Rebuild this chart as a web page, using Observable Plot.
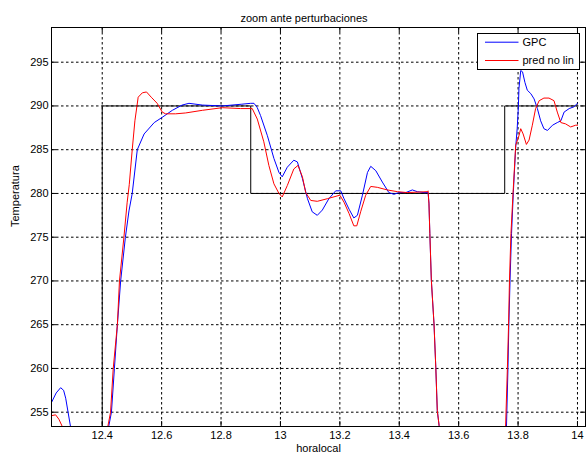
<!DOCTYPE html>
<html><head><meta charset="utf-8">
<script src="https://cdn.jsdelivr.net/npm/d3@7"></script>
<script src="https://cdn.jsdelivr.net/npm/@observablehq/plot@0.6"></script>
<style>body{margin:0;background:#fff} svg{display:block}</style>
</head><body><div id="chart"></div>
<script>
const titleText = "zoom ante perturbaciones";
const xLabel = "horalocal";
const yLabel = "Temperatura";
const seriesNames = ["GPC", "pred no lin"];
const xTicks = [12.4, 12.6, 12.8, 13, 13.2, 13.4, 13.6, 13.8, 14];
const yTicks = [255, 260, 265, 270, 275, 280, 285, 290, 295];

const spX = [12.2292, 12.4, 12.4, 12.9, 12.9, 13.755, 13.755, 14.0];
const spY = [250, 250, 290, 290, 280, 280, 290, 290];

const gpcX = [12.229,12.245,12.26,12.27,12.277,12.285,12.293,12.30,12.35,12.41,12.418,12.422,12.431,12.441,12.451,12.462,12.478,12.490,12.501,12.518,12.541,12.575,12.602,12.636,12.669,12.692,12.737,12.804,12.87,12.900,12.911,12.922,12.933,12.956,12.978,12.995,13.006,13.023,13.045,13.057,13.074,13.091,13.107,13.124,13.141,13.163,13.186,13.203,13.214,13.231,13.247,13.259,13.276,13.293,13.304,13.321,13.343,13.365,13.382,13.399,13.422,13.444,13.461,13.483,13.497,13.500,13.503,13.508,13.517,13.523,13.528,13.534,13.54,13.60,13.74,13.758,13.761,13.766,13.769,13.773,13.778,13.784,13.792,13.797,13.801,13.803,13.809,13.815,13.823,13.831,13.843,13.854,13.865,13.876,13.887,13.899,13.916,13.932,13.944,13.955,13.972,13.988,14.0];
const gpcY = [256.1,257.2,257.8,257.5,256.6,255.0,253.4,250,240,240,250,253.4,255,260,265,270,275,278,280,285,286.8,288.1,288.7,289.5,290.1,290.3,290.1,290.0,290.2,290.3,290.3,289.8,288.9,286.6,284.0,282.4,281.9,283.0,283.8,283.6,281.7,279.4,277.9,277.5,278.1,279.4,280.3,280.3,279.4,278.2,277.2,277.5,279.8,282.4,283.1,282.6,281.3,280.1,279.9,280.1,280.1,280.4,280.2,280.1,280.1,278.9,275.4,270.1,265.1,260.1,255.2,253.5,250,240,240,250,253.4,260.1,265.1,270.1,275.4,280.1,285.3,287.4,289.9,292,294.05,293.9,292.7,291.8,291.4,290.8,289.7,288.3,287.4,287.2,287.8,288.1,288.3,289.3,289.7,289.9,290.3];

const predX = [12.229,12.243,12.254,12.265,12.275,12.33,12.40,12.413,12.419,12.428,12.437,12.451,12.458,12.473,12.484,12.491,12.501,12.510,12.521,12.535,12.549,12.565,12.585,12.602,12.613,12.647,12.681,12.737,12.804,12.866,12.905,12.922,12.944,12.961,12.978,12.995,13.006,13.023,13.045,13.059,13.074,13.085,13.102,13.124,13.158,13.200,13.214,13.231,13.247,13.257,13.270,13.287,13.304,13.326,13.360,13.394,13.427,13.495,13.497,13.500,13.503,13.508,13.517,13.523,13.528,13.534,13.54,13.60,13.74,13.755,13.758,13.764,13.768,13.771,13.776,13.783,13.792,13.803,13.809,13.817,13.828,13.837,13.848,13.859,13.871,13.887,13.904,13.921,13.932,13.944,13.960,13.977,13.994,14.0];
const predY = [254.6,254.7,254.2,253.4,250,240,240,250,253.4,255,260,265,270,275,279,281,285,288.3,291,291.5,291.6,291.0,290.3,289.3,289.1,289.1,289.2,289.5,289.8,289.7,289.7,288.5,285.9,283.2,281.1,280.0,279.6,280.9,282.8,283.2,281.9,280.1,279.2,279.1,279.4,279.8,279.0,277.7,276.3,276.3,277.9,279.8,280.8,280.7,280.4,280.2,280.1,280.2,280.3,278.8,275.4,270.1,265.1,260.1,255.2,253.5,250,240,240,250,253.4,260,265,270,275.4,280,285.5,286.6,287.4,286.8,285.6,286.1,287.8,289.7,290.6,290.9,290.9,290.6,289.3,288.1,287.95,287.6,287.8,287.8];

const toRows = (xs, ys) => xs.map((x, i) => ({x, y: ys[i]}));
const setpoint = toRows(spX, spY);
const gpc = toRows(gpcX, gpcY);
const pred = toRows(predX, predY);

const font = "'Liberation Sans', Arial, Helvetica, sans-serif";
const W = 588, H = 456, mL = 51, mR = 3, mT = 27, mB = 30;
const innerH = H - mT - mB, innerW = W - mL - mR;
const fmt = d => String(+d.toFixed(2));
const gridStyle = {stroke: "#000", strokeOpacity: 1, strokeWidth: 1, strokeDasharray: "2.5,2.5"};

const plot = Plot.plot({
  width: W, height: H,
  marginLeft: mL, marginRight: mR, marginTop: mT, marginBottom: mB,
  style: {fontFamily: font, fontSize: "11px", background: "#fff", color: "#000", overflow: "visible"},
  x: {domain: [12.2292, 14.027], label: null},
  y: {domain: [253.366, 298.966], label: null},
  marks: [
    Plot.gridX(xTicks, gridStyle),
    Plot.gridY(yTicks, gridStyle),
    Plot.ruleX(xTicks, {stroke: "#000", insetTop: innerH - 5}),
    Plot.ruleX(xTicks, {stroke: "#000", insetBottom: innerH - 5}),
    Plot.ruleY(yTicks, {stroke: "#000", insetRight: innerW - 5}),
    Plot.ruleY(yTicks, {stroke: "#000", insetLeft: innerW - 5}),
    Plot.line(setpoint, {x: "x", y: "y", stroke: "#000", strokeWidth: 1, clip: true}),
    Plot.line(gpc, {x: "x", y: "y", stroke: "#0000ff", strokeWidth: 1, clip: true}),
    Plot.line(pred, {x: "x", y: "y", stroke: "#ff0000", strokeWidth: 1, clip: true}),
    Plot.frame({stroke: "#000", strokeWidth: 1}),
    Plot.axisX(xTicks, {tickSize: 0, tickPadding: 5, tickFormat: fmt, label: null, fontSize: 11}),
    Plot.axisY(yTicks, {tickSize: 0, tickPadding: 3, tickFormat: fmt, label: null, fontSize: 11}),
    Plot.text([titleText], {frameAnchor: "top", dy: -13, dx: -14.5, fontSize: 11, fill: "#000"}),
    Plot.text([xLabel], {frameAnchor: "bottom", dy: 25, fontSize: 11, fill: "#000"}),
    Plot.text([yLabel], {frameAnchor: "left", dx: -36, rotate: -90, fontSize: 11, fill: "#000"})
  ]
});

// legend
const svg = d3.select(plot);
const lg = svg.append("g").attr("font-family", font).attr("font-size", 11).attr("text-anchor", "start");
lg.append("rect").attr("x", 477.5).attr("y", 33.5).attr("width", 102).attr("height", 36)
  .attr("fill", "#fff").attr("stroke", "#000");
const colors = ["#0000ff", "#ff0000"];
const ys = [41.7, 60];
seriesNames.forEach((name, i) => {
  lg.append("line").attr("x1", 485).attr("x2", 518.5).attr("y1", ys[i] + 0.5).attr("y2", ys[i] + 0.5)
    .attr("stroke", colors[i]);
  lg.append("text").attr("x", 522.5).attr("y", ys[i] + 4).attr("fill", "#000")
    .attr("text-anchor", "start").text(name);
});

document.getElementById("chart").appendChild(plot);
</script>
</body></html>
